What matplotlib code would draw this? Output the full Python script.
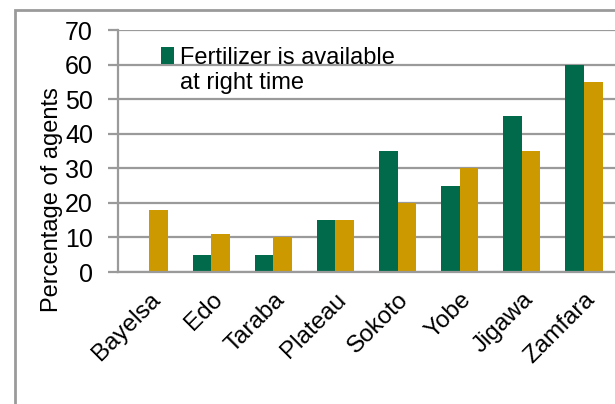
import numpy as np
import matplotlib.pyplot as plt
from matplotlib.patches import Rectangle

plt.rcParams['font.family'] = ['Liberation Sans', 'DejaVu Sans']

states = ["Bayelsa", "Edo", "Taraba", "Plateau", "Sokoto", "Yobe", "Jigawa", "Zamfara"]
on_time = [0, 5, 5, 15, 35, 25, 45, 60]
other = [18, 11, 10, 15, 20, 30, 35, 55]

green = "#006a4b"
gold = "#cc9a00"
grey = "#9a9a9a"

fig = plt.figure(figsize=(6.15, 4.04), dpi=100)
ax = fig.add_axes([118 / 615, 1 - 272 / 404, 1 - 118 / 615, 242 / 404])

x = np.arange(len(states))
w = 0.3
ax.bar(x - w / 2, on_time, w, color=green, label="Fertilizer is available\nat right time", zorder=3)
ax.bar(x + w / 2, other, w, color=gold, zorder=3)

ax.set_xlim(-0.5, len(states) - 0.5)
ax.set_ylim(0, 70)
ax.set_yticks(range(0, 71, 10))
ax.yaxis.grid(True, color=grey, linewidth=1.6, zorder=0)
for s in ["top", "right"]:
    ax.spines[s].set_visible(False)
for s in ["left", "bottom"]:
    ax.spines[s].set_color(grey)
    ax.spines[s].set_linewidth(1.6)
    ax.spines[s].set_zorder(4)

ax.tick_params(axis="y", length=7, width=1.6, color=grey, labelsize=18, pad=11)
ax.tick_params(axis="x", length=0, labelsize=17.5, pad=12)
ax.set_xticks(x)
ax.set_xticklabels(states, rotation=45, ha="right", rotation_mode="anchor")

ax.set_ylabel("Percentage of agents", fontsize=17)
ax.yaxis.set_label_coords((63 - 118) / 497, (272 - 200) / 242)

leg = ax.legend(loc="upper left", bbox_to_anchor=(0.068, 0.97), frameon=False, fontsize=17,
                handlelength=0.55, handleheight=0.7, handletextpad=0.25, borderaxespad=0,
                labelspacing=0.3)
# keep the marker level with the first line of the label
h = leg.legend_handles[0]
h.set_y(h.get_y() + 11)

# outer frame of the chart area
fig.patches.append(Rectangle((15 / 615, -0.1), 1.2, 1 - 10 / 404 + 0.1, transform=fig.transFigure,
                             fill=False, edgecolor=grey, linewidth=2))

fig.savefig("out.png", dpi=100)
